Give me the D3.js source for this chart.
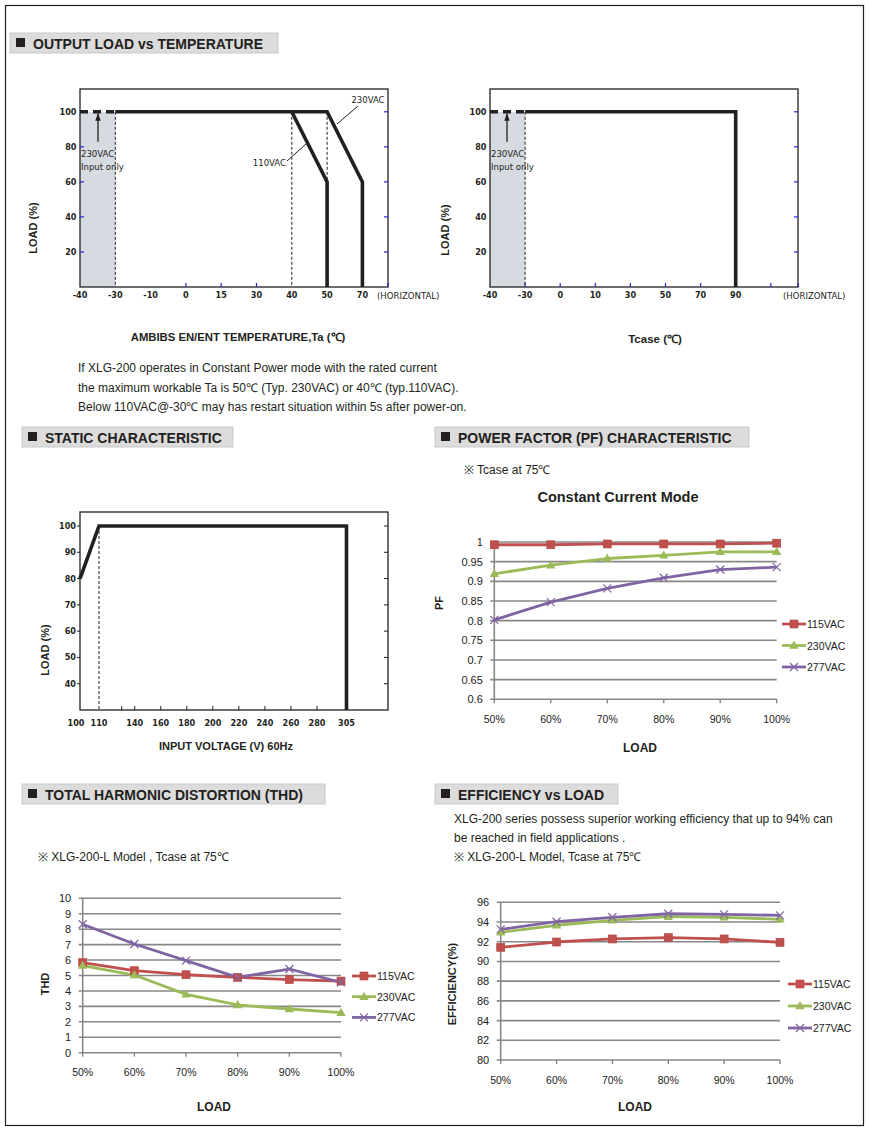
<!DOCTYPE html>
<html><head><meta charset="utf-8">
<script src="https://cdn.jsdelivr.net/npm/d3@7"></script>
<style>html,body{margin:0;padding:0;background:#fff;}svg{display:block;}</style>
</head><body>
<script>
// ---------- DATA ----------
const taTicks = [-40, -30, -10, 0, 15, 30, 40, 50, 70];
const loadTicks = [20, 40, 60, 80, 100];
const curve230 = [[-30, 100], [50, 100], [70, 60], [70, 0]];
const curve110 = [[40, 100], [50, 60], [50, 0]];
const inputOnly = [[-40, 100], [-30, 100]];
const taDashed = [-30, 40, 50];

const tcTicks = [-40, -30, 0, 10, 30, 50, 70, 90, 110];
const tcLabels = ["-40", "-30", "0", "10", "30", "50", "70", "90", ""];
const tcCurve = [[-30, 100], [90, 100], [90, 0]];
const tcInputOnly = [[-40, 100], [-30, 100]];

const vinTicks = [100, 110, 130, 140, 160, 180, 200, 220, 240, 260, 280, 305];
const vinLabels = ["100", "110", "", "140", "160", "180", "200", "220", "240", "260", "280", "305"];
const staticLoadTicks = [40, 50, 60, 70, 80, 90, 100];
const staticCurve = [[100, 80], [110, 100], [305, 100], [305, 30]];

const loadCats = ["50%", "60%", "70%", "80%", "90%", "100%"];
const seriesNames = ["115VAC", "230VAC", "277VAC"];

const pf115 = [0.993, 0.993, 0.995, 0.995, 0.995, 0.997];
const pf230 = [0.919, 0.941, 0.958, 0.966, 0.975, 0.975];
const pf277 = [0.802, 0.847, 0.882, 0.909, 0.930, 0.936];
const pfTicks = [0.6, 0.65, 0.7, 0.75, 0.8, 0.85, 0.9, 0.95, 1];
const pfTickLabels = ["0.6", "0.65", "0.7", "0.75", "0.8", "0.85", "0.9", "0.95", "1"];

const thd115 = [5.83, 5.31, 5.05, 4.88, 4.73, 4.64];
const thd230 = [5.64, 5.03, 3.78, 3.09, 2.83, 2.59];
const thd277 = [8.32, 7.04, 5.96, 4.88, 5.42, 4.56];
const thdTicks = [0, 1, 2, 3, 4, 5, 6, 7, 8, 9, 10];

const eff115 = [91.43, 91.97, 92.28, 92.41, 92.28, 91.94];
const eff230 = [92.96, 93.67, 94.17, 94.54, 94.48, 94.27];
const eff277 = [93.26, 94.03, 94.48, 94.84, 94.78, 94.68];
const effTicks = [80, 82, 84, 86, 88, 90, 92, 94, 96];

// ---------- STYLE ----------
const SANS = "'Liberation Sans', Arial, Helvetica, sans-serif";
const NARROW = "'Liberation Sans Narrow', 'DejaVu Sans Condensed', 'Liberation Sans', sans-serif";
const INK = "#231f20";
const BLUE = "#2323d8";
const SER_COLORS = ["#c0504d", "#9bbb59", "#8064a2"];
const SER_MARK = ["square", "triangle", "x"];
const GRID = "#878787";

const svg = d3.select("body").append("svg").attr("width", 869).attr("height", 1133);
svg.append("rect").attr("x", 0).attr("y", 0).attr("width", 869).attr("height", 1133).attr("fill", "#fff");
svg.append("rect").attr("x", 5.5).attr("y", 5.5).attr("width", 858).attr("height", 1120)
  .attr("fill", "none").attr("stroke", INK).attr("stroke-width", 1.2);

function header(x, y, w, label) {
  const g = svg.append("g");
  g.append("rect").attr("x", x).attr("y", y).attr("width", w).attr("height", 20)
    .attr("fill", "#dcdcdc").attr("stroke", "#c9c9c9").attr("stroke-width", 1);
  g.append("rect").attr("x", x + 6).attr("y", y + 5).attr("width", 9).attr("height", 9).attr("fill", INK);
  g.append("text").attr("x", x + 23).attr("y", y + 15.5).text(label)
    .attr("font-family", SANS).attr("font-weight", "bold").attr("font-size", 14).attr("fill", INK);
}
function txt(x, y, s, opt = {}) {
  const t = svg.append("text").attr("x", x).attr("y", y).text(s)
    .attr("font-family", opt.family || SANS).attr("font-size", opt.size || 11)
    .attr("font-weight", opt.weight || "normal").attr("fill", opt.fill || INK)
    .attr("text-anchor", opt.anchor || "start");
  if (opt.rotate) t.attr("transform", `rotate(-90,${x},${y})`);
  return t;
}

header(10, 33, 268, "OUTPUT LOAD vs TEMPERATURE");
header(22, 427, 211, "STATIC CHARACTERISTIC");
header(435, 427, 314, "POWER FACTOR (PF) CHARACTERISTIC");
header(22, 784, 303, "TOTAL HARMONIC DISTORTION (THD)");
header(435, 784, 183, "EFFICIENCY vs LOAD");

// arrow marker
svg.append("defs").append("marker").attr("id", "arr").attr("viewBox", "0 0 10 10")
  .attr("refX", 9).attr("refY", 5).attr("markerWidth", 6).attr("markerHeight", 6)
  .attr("orient", "auto-start-reverse")
  .append("path").attr("d", "M0,1.5L10,5L0,8.5z").attr("fill", INK);

// ---------- DERATING PANELS ----------
function derating(cfg) {
  const g = svg.append("g");
  const x = cfg.x, y = cfg.y;
  const [L, R] = [cfg.left, cfg.right], [T, B] = [cfg.top, y(0)];
  const line = d3.line().x(d => x(d[0])).y(d => y(d[1]));
  g.append("rect").attr("x", x(-40)).attr("y", y(100)).attr("width", x(-30) - x(-40)).attr("height", y(0) - y(100))
    .attr("fill", "#d6dbe2");
  g.append("rect").attr("x", L).attr("y", T).attr("width", R - L).attr("height", B - T)
    .attr("fill", "none").attr("stroke", INK).attr("stroke-width", 1.3);
  cfg.blueBottom.forEach(v => {
    const px = v === "R" ? R : x(v);
    g.append("line").attr("x1", px).attr("x2", px).attr("y1", B).attr("y2", B - 4).attr("stroke", BLUE).attr("stroke-width", 1.2);
  });
  loadTicks.forEach(v => {
    g.append("line").attr("x1", R).attr("x2", R - 4).attr("y1", y(v)).attr("y2", y(v)).attr("stroke", BLUE).attr("stroke-width", 1.2);
    if (cfg.blueLeft && v < 100)
      g.append("line").attr("x1", L).attr("x2", L + 4).attr("y1", y(v)).attr("y2", y(v)).attr("stroke", BLUE).attr("stroke-width", 1.2);
    g.append("text").attr("x", L - 3.5).attr("y", y(v) + 3).text(v)
      .attr("font-family", NARROW).attr("font-weight", "bold").attr("font-size", 9).attr("text-anchor", "end").attr("fill", INK);
  });
  cfg.dashed.forEach(v => {
    g.append("line").attr("x1", x(v)).attr("x2", x(v)).attr("y1", y(100)).attr("y2", B)
      .attr("stroke", INK).attr("stroke-width", 1).attr("stroke-dasharray", "3,2");
  });
  cfg.ticks.forEach((v, i) => {
    g.append("text").attr("x", x(v)).attr("y", B + 11).text(cfg.labels[i])
      .attr("font-family", NARROW).attr("font-weight", "bold").attr("font-size", 9).attr("text-anchor", "middle").attr("fill", INK);
  });
  g.append("text").attr("x", cfg.horizX).attr("y", B + 12).text("(HORIZONTAL)")
    .attr("font-family", NARROW).attr("font-size", 9.5).attr("fill", INK);
  g.append("path").attr("d", line(cfg.dashCurve)).attr("fill", "none").attr("stroke", INK)
    .attr("stroke-width", 3.6).attr("stroke-dasharray", "8,5");
  cfg.curves.forEach(c => {
    g.append("path").attr("d", line(c)).attr("fill", "none").attr("stroke", INK)
      .attr("stroke-width", 3.6).attr("stroke-linejoin", "miter");
  });
  const ax = x(-40) + cfg.arrowDx;
  g.append("line").attr("x1", ax).attr("x2", ax).attr("y1", y(100) + 30).attr("y2", y(100) + 2)
    .attr("stroke", INK).attr("stroke-width", 1.3).attr("marker-end", "url(#arr)");
  g.append("text").attr("x", x(-40) + 1).attr("y", y(100) + 45).text("230VAC")
    .attr("font-family", NARROW).attr("font-size", 9.5).attr("fill", INK);
  g.append("text").attr("x", x(-40) + 1).attr("y", y(100) + 58).text("Input only")
    .attr("font-family", NARROW).attr("font-size", 9.5).attr("fill", INK);
  return g;
}

const xTa = d3.scaleLinear().domain(taTicks).range(taTicks.map((d, i) => 80 + i * 35.3));
const yLoad1 = d3.scaleLinear().domain([0, 100]).range([287, 111.8]);
const p1 = derating({
  x: xTa, y: yLoad1, left: 80, right: 388, top: 89,
  ticks: taTicks, labels: taTicks.map(String), dashed: taDashed,
  blueBottom: [0, 15, 30, "R"], blueLeft: true, horizX: 377,
  dashCurve: inputOnly, curves: [curve230, curve110], arrowDx: 18
});
p1.append("line").attr("x1", 337).attr("y1", 124).attr("x2", 358).attr("y2", 106).attr("stroke", INK).attr("stroke-width", 1);
p1.append("text").attr("x", 368).attr("y", 103).text("230VAC").attr("font-family", NARROW).attr("font-size", 9.5).attr("text-anchor", "middle").attr("fill", INK);
p1.append("line").attr("x1", 287).attr("y1", 161).attr("x2", 306).attr("y2", 144).attr("stroke", INK).attr("stroke-width", 1);
p1.append("text").attr("x", 286).attr("y", 166).text("110VAC").attr("font-family", NARROW).attr("font-size", 9.5).attr("text-anchor", "end").attr("fill", INK);
txt(33, 228, "LOAD (%)", { weight: "bold", size: 11, anchor: "middle", rotate: true }).attr("dy", 4);
txt(238, 341, "AMBIBS EN/ENT TEMPERATURE,Ta (℃)", { weight: "bold", size: 11.3, anchor: "middle" });

const xTc = d3.scaleLinear().domain(tcTicks).range(tcTicks.map((d, i) => 490 + i * 35.1));
derating({
  x: xTc, y: yLoad1, left: 490, right: 798, top: 89,
  ticks: tcTicks, labels: tcLabels, dashed: [-30],
  blueBottom: [-30, 0, 10, 30, 50, 70, 110, "R"], blueLeft: false, horizX: 783,
  dashCurve: tcInputOnly, curves: [tcCurve], arrowDx: 17
});
txt(445, 230, "LOAD (%)", { weight: "bold", size: 11, anchor: "middle", rotate: true }).attr("dy", 4);
txt(655, 343, "Tcase (℃)", { weight: "bold", size: 11.5, anchor: "middle" });

txt(78, 372, "If XLG-200 operates in Constant Power mode with the rated current", { size: 12 });
txt(78, 391.5, "the maximum workable Ta is 50℃ (Typ. 230VAC) or 40℃ (typ.110VAC).", { size: 12 });
txt(78, 411, "Below 110VAC@-30℃ may has restart situation within 5s after power-on.", { size: 12 });

// ---------- STATIC ----------
{
  const x = d3.scaleLinear().domain([100, 110, 130, 280, 305]).range([80, 99, 121.7, 317, 346.5]);
  const y = d3.scaleLinear().domain([30, 100]).range([710, 526]);
  const g = svg.append("g");
  const L = 80, R = 388, T = 512, B = 710;
  g.append("rect").attr("x", L).attr("y", T).attr("width", R - L).attr("height", B - T)
    .attr("fill", "none").attr("stroke", INK).attr("stroke-width", 1.3);
  staticLoadTicks.forEach(v => {
    g.append("line").attr("x1", R).attr("x2", R - 4).attr("y1", y(v)).attr("y2", y(v)).attr("stroke", INK);
    g.append("line").attr("x1", L).attr("x2", L - 3).attr("y1", y(v)).attr("y2", y(v)).attr("stroke", INK);
    g.append("text").attr("x", L - 4).attr("y", y(v) + 3).text(v)
      .attr("font-family", NARROW).attr("font-weight", "bold").attr("font-size", 9).attr("text-anchor", "end").attr("fill", INK);
  });
  vinTicks.forEach((v, i) => {
    if (v > 110 && v < 305)
      g.append("line").attr("x1", x(v)).attr("x2", x(v)).attr("y1", B).attr("y2", B - 4).attr("stroke", INK);
    g.append("text").attr("x", x(v) - (v === 100 ? 4 : 0)).attr("y", B + 16).text(vinLabels[i])
      .attr("font-family", NARROW).attr("font-weight", "bold").attr("font-size", 9).attr("text-anchor", "middle").attr("fill", INK);
  });
  g.append("line").attr("x1", x(110)).attr("x2", x(110)).attr("y1", y(100)).attr("y2", B)
    .attr("stroke", INK).attr("stroke-width", 1).attr("stroke-dasharray", "3,2");
  const line = d3.line().x(d => x(d[0])).y(d => y(d[1]));
  g.append("path").attr("d", line(staticCurve)).attr("fill", "none").attr("stroke", INK).attr("stroke-width", 3.6);
  txt(45, 650, "LOAD (%)", { weight: "bold", size: 11, anchor: "middle", rotate: true }).attr("dy", 4);
  txt(226, 750, "INPUT VOLTAGE (V) 60Hz", { weight: "bold", size: 11, anchor: "middle" });
}

// ---------- EXCEL-STYLE LINE CHARTS ----------
function marker(g, type, color, cx, cy) {
  if (type === "square") {
    g.append("rect").attr("x", cx - 4).attr("y", cy - 4).attr("width", 8).attr("height", 8)
      .attr("fill", color).attr("stroke", "#b3433f").attr("stroke-width", 0.6);
  } else if (type === "triangle") {
    g.append("path").attr("d", d3.symbol(d3.symbolTriangle).size(38)()).attr("transform", `translate(${cx},${cy + 0.5})`)
      .attr("fill", color);
  } else {
    g.append("path").attr("d", `M${cx - 4},${cy - 4}L${cx + 4},${cy + 4}M${cx - 4},${cy + 4}L${cx + 4},${cy - 4}`)
      .attr("stroke", color).attr("stroke-width", 1.2).attr("fill", "none");
  }
}
function excelChart(cfg) {
  const g = svg.append("g");
  const x = d3.scalePoint().domain(loadCats).range(cfg.xr);
  const y = d3.scaleLinear().domain(d3.extent(cfg.ticks)).range(cfg.yr);
  const x0 = cfg.xr[0], x1 = cfg.xr[1];
  cfg.ticks.forEach((v, i) => {
    g.append("line").attr("x1", x0 - 4).attr("x2", x1).attr("y1", y(v)).attr("y2", y(v))
      .attr("stroke", GRID).attr("stroke-width", 1.6);
    g.append("text").attr("x", x0 - 11.5).attr("y", y(v) + 4).text(cfg.tickLabels ? cfg.tickLabels[i] : v)
      .attr("font-family", SANS).attr("font-size", 11).attr("text-anchor", "end").attr("fill", "#222");
  });
  g.append("line").attr("x1", x0).attr("x2", x0).attr("y1", cfg.yr[1]).attr("y2", cfg.yr[0])
    .attr("stroke", GRID).attr("stroke-width", 1.6);
  loadCats.forEach(c => {
    g.append("line").attr("x1", x(c)).attr("x2", x(c)).attr("y1", cfg.yr[0]).attr("y2", cfg.yr[0] + 4)
      .attr("stroke", GRID).attr("stroke-width", 1.4);
    g.append("text").attr("x", x(c)).attr("y", cfg.yr[0] + 23.5).text(c)
      .attr("font-family", SANS).attr("font-size", 10.5).attr("text-anchor", "middle").attr("fill", "#222");
  });
  const line = d3.line().x((d, i) => x(loadCats[i])).y(d => y(d));
  cfg.series.forEach((s, k) => {
    g.append("path").attr("d", line(s)).attr("fill", "none").attr("stroke", SER_COLORS[k])
      .attr("stroke-width", 2.8).attr("stroke-linejoin", "round");
  });
  cfg.series.forEach((s, k) => {
    s.forEach((v, i) => marker(g, SER_MARK[k], SER_COLORS[k], x(loadCats[i]), y(v)));
  });
  seriesNames.forEach((n, k) => {
    const ly = cfg.legY + k * cfg.legStep;
    g.append("line").attr("x1", cfg.legX).attr("x2", cfg.legX + 24).attr("y1", ly).attr("y2", ly)
      .attr("stroke", SER_COLORS[k]).attr("stroke-width", 2.8);
    marker(g, SER_MARK[k], SER_COLORS[k], cfg.legX + 12, ly);
    g.append("text").attr("x", cfg.legX + 25).attr("y", ly + 4).text(n)
      .attr("font-family", SANS).attr("font-size", 10.5).attr("fill", "#222");
  });
  return g;
}

excelChart({
  xr: [494.3, 776.7], yr: [699.3, 542], ticks: pfTicks, tickLabels: pfTickLabels,
  series: [pf115, pf230, pf277], legX: 782, legY: 624, legStep: 21.5
});
txt(464, 473.5, "※ Tcase at 75℃", { size: 12 });
txt(618, 502, "Constant Current Mode", { weight: "bold", size: 14.5, anchor: "middle" });
txt(439, 603, "PF", { weight: "bold", size: 11, anchor: "middle", rotate: true }).attr("dy", 4);
txt(640, 751.5, "LOAD", { weight: "bold", size: 12, anchor: "middle" });

excelChart({
  xr: [82.7, 341], yr: [1052.7, 898.3], ticks: thdTicks,
  series: [thd115, thd230, thd277], legX: 352, legY: 976, legStep: 20.7
});
txt(38, 861, "※ XLG-200-L Model , Tcase at 75℃", { size: 12 });
txt(45, 984, "THD", { weight: "bold", size: 11, anchor: "middle", rotate: true }).attr("dy", 4);
txt(214, 1110.5, "LOAD", { weight: "bold", size: 12, anchor: "middle" });

excelChart({
  xr: [500.7, 780], yr: [1060, 902.3], ticks: effTicks,
  series: [eff115, eff230, eff277], legX: 788, legY: 984, legStep: 22
});
txt(454, 823, "XLG-200 series possess superior working efficiency that up to 94% can", { size: 12 });
txt(454, 841.5, "be reached in field applications .", { size: 12 });
txt(454, 861, "※ XLG-200-L Model, Tcase at 75℃", { size: 12 });
txt(451.7, 984, "EFFICIENCY(%)", { weight: "bold", size: 11, anchor: "middle", rotate: true }).attr("dy", 4);
txt(635, 1110.5, "LOAD", { weight: "bold", size: 12, anchor: "middle" });
</script>
</body></html>
